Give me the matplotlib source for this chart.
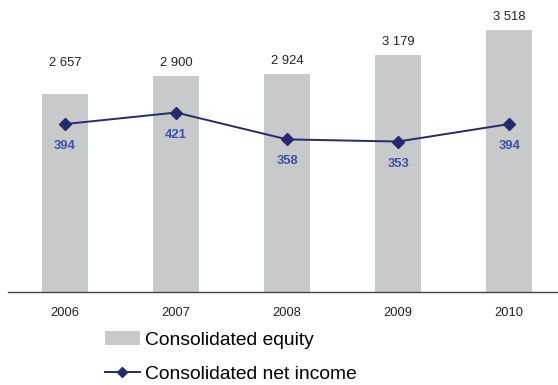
import matplotlib.pyplot as plt
from matplotlib.patches import Patch
from matplotlib.lines import Line2D

plt.rcParams['font.family'] = ['Liberation Sans', 'DejaVu Sans']

years = ['2006', '2007', '2008', '2009', '2010']
equity = [2657, 2900, 2924, 3179, 3518]
net_income = [394, 421, 358, 353, 394]
equity_labels = ['2 657', '2 900', '2 924', '3 179', '3 518']

bar_col = '#c8c9cb'
line_col = '#25296e'
label_col = '#3d52a6'

fig = plt.figure(figsize=(5.58, 3.85), dpi=100)
ax = fig.add_axes([8/558, 1 - 292/385, 550/558, 292/385])
x = list(range(len(years)))

ax.bar(x, equity, width=0.41, color=bar_col, zorder=1)
ax.set_ylim(0, 3920)
ax.set_xlim(-0.514, 4.44)

# the 2006 figure sits a bit higher than the others
offsets = [28, 10, 10, 10, 10]
for xi, v, lab, off in zip(x, equity, equity_labels, offsets):
    ax.annotate(lab, (xi, v), xytext=(0, off), textcoords='offset pixels',
                ha='center', va='baseline', fontsize=9.4, color='#222222')

ax2 = ax.twinx()
ax2.set_ylim(0, 685)
ax2.plot(x, net_income, color=line_col, lw=1.4, marker='D', markersize=5.8,
         zorder=3)
for xi, v in zip(x, net_income):
    ax2.annotate(str(v), (xi, v), xytext=(0, -25), textcoords='offset pixels',
                 ha='center', va='baseline', fontsize=9.4, fontweight='bold',
                 color=label_col)

for a in (ax, ax2):
    for s in ('top', 'right', 'left'):
        a.spines[s].set_visible(False)
    a.set_yticks([])
ax2.spines['bottom'].set_visible(False)
ax.spines['bottom'].set_color('#444444')
ax.spines['bottom'].set_linewidth(1.0)

ax.set_xticks(x)
ax.set_xticklabels(years, fontsize=9.3, color='#222222')
ax.tick_params(axis='x', length=0, pad=10.5)

handles = [Patch(facecolor=bar_col, edgecolor='none'),
           Line2D([], [], color=line_col, lw=1.4, marker='D', markersize=5)]
fig.legend(handles, ['Consolidated equity', 'Consolidated net income'],
           loc='upper left', bbox_to_anchor=(105/558, 1 - 331/385),
           frameon=False, fontsize=13.9, borderpad=0, borderaxespad=0,
           handlelength=1.8, handleheight=0.72, handletextpad=0.25,
           labelspacing=0.88)

fig.savefig('out.png', dpi=100)
